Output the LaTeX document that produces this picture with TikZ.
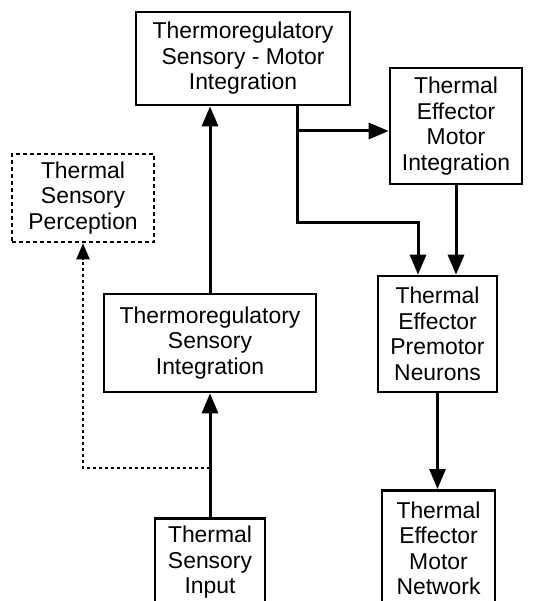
\documentclass[tikz,border=0pt]{standalone}
\usepackage{fontspec}
\setmainfont{Liberation Sans}
\usetikzlibrary{arrows.meta}
\usetikzlibrary{calc}

\tikzset{
  box/.style={draw, line width=2.6pt, align=center, inner sep=0pt,
    font=\fontsize{22.9}{25.5}\selectfont},
  arr/.style={line width=3pt, -{Triangle[length=20pt,width=16pt]}},
  dotarr/.style={line width=2pt, dash pattern=on 3pt off 3pt,
    -{Triangle[length=16pt,width=13pt]}}
}

\begin{document}
\begin{tikzpicture}[x=1pt,y=-1pt]
    \useasboundingbox (0,0) rectangle (532,601);
    \clip (0,0) rectangle (532,601);

		\node[box, minimum width=214pt, minimum height=93pt] (smint) at (243,58.5)
		  {Thermoregulatory\\Sensory - Motor\\Integration};
		\node[box, minimum width=132pt, minimum height=116pt] (effmot) at (456,126)
		  {Thermal\\Effector\\Motor\\Integration};
		\node[box, dash pattern=on 4pt off 3pt, minimum width=142pt, minimum height=88pt] (percep) at (83,198)
		  {Thermal\\Sensory\\Perception};
		\node[box, minimum width=212pt, minimum height=98pt] (sensint) at (210,343)
		  {Thermoregulatory\\Sensory\\Integration};
		\node[box, minimum width=119pt, minimum height=116pt] (premot) at (437.5,334)
		  {Thermal\\Effector\\Premotor\\Neurons};
		\node[box, minimum width=110pt, minimum height=88pt, anchor=north] (input) at (210,517)
		  {Thermal\\Sensory\\Input};
		\node[box, minimum width=113pt, minimum height=116pt, anchor=north] (network) at (438.5,489)
		  {Thermal\\Effector\\Motor\\Network};

		\coordinate (split) at (297,131) ;
		\coordinate (bend) at (297,223) ;
		\coordinate (tap) at (210,468) ;

		% ascending
		\draw[arr] (input.north) -- (sensint.south);
		\draw[arr] (sensint.north) -- (sensint.north |- smint.south);
		\draw[dotarr] (tap) -| (percep.south);

		% descending
		\draw[arr] (split |- smint.south) -- (split) -- (split -| effmot.west);
		\draw[arr] (split) -- (bend) -| ([xshift=-19.5pt]premot.north);
		\draw[arr] (effmot.south) -- (effmot.south |- premot.north);
		\draw[arr] (premot.south) -- (premot.south |- network.north);
\end{tikzpicture}
\end{document}
